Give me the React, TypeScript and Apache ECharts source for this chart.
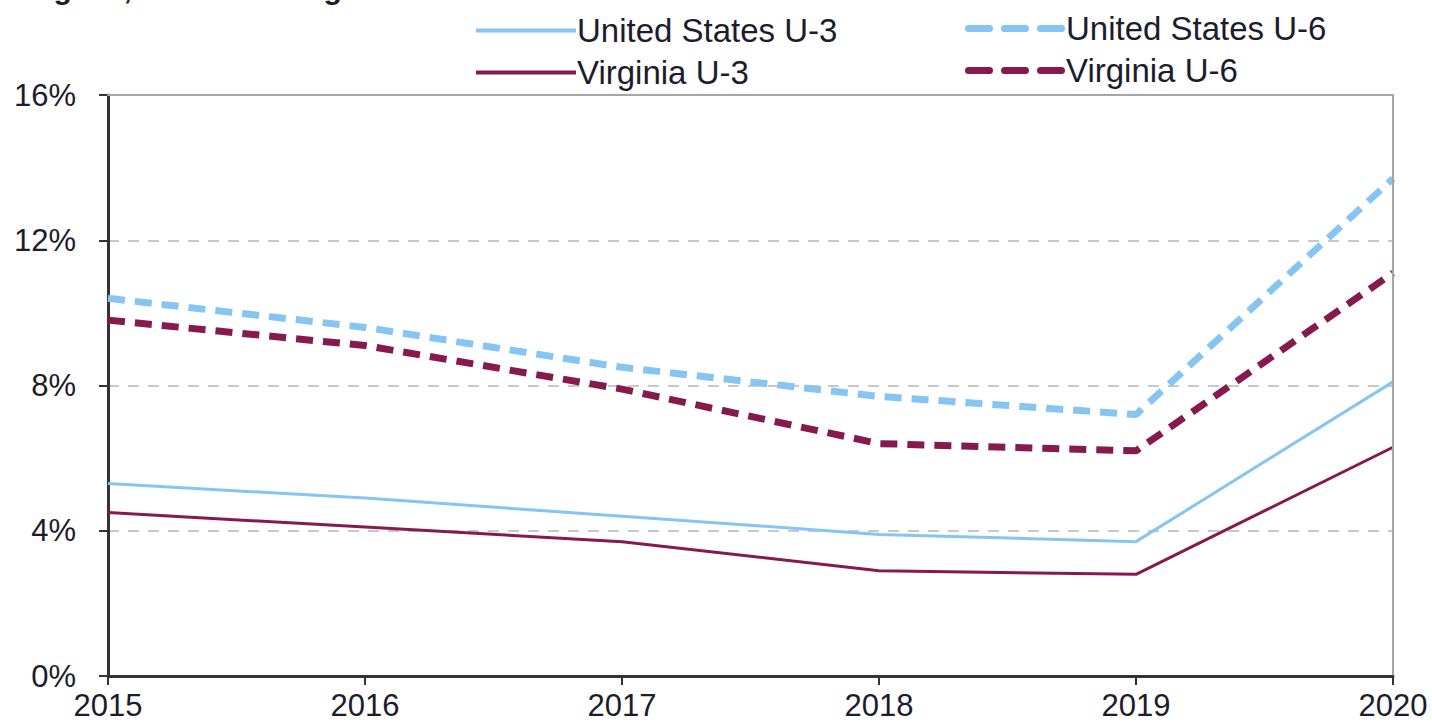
import React, { useEffect, useRef } from "react";
import * as echarts from "echarts";

const years = ["2015", "2016", "2017", "2018", "2019", "2020"];
const usU3 = [5.3, 4.9, 4.4, 3.9, 3.7, 8.1];
const usU6 = [10.4, 9.6, 8.5, 7.7, 7.2, 13.7];
const vaU3 = [4.5, 4.1, 3.7, 2.9, 2.8, 6.3];
const vaU6 = [9.8, 9.1, 7.9, 6.4, 6.2, 11.1];
const seriesNames = ["United States U-3", "United States U-6", "Virginia U-3", "Virginia U-6"];
const titleText = "Virginia, annual averages";

const BLUE = "#86c5f2";
const MAROON = "#861a4e";
const TEXT = "#1c1c2c";
const FONT = "'Liberation Sans', Arial, sans-serif";
const DASH = [17, 10];
const DASH_ICON = "path://M3.5,0h21a3.5,3.5,0,0,1,0,7h-21a3.5,3.5,0,0,1,0,-7z M39.5,0h21a3.5,3.5,0,0,1,0,7h-21a3.5,3.5,0,0,1,0,-7z M75.5,0h21a3.5,3.5,0,0,1,0,7h-21a3.5,3.5,0,0,1,0,-7z";

export default function App() {
  const ref = useRef<HTMLDivElement>(null);
  useEffect(() => {
    const chart = echarts.init(ref.current!, null, { renderer: "svg" });
    const legendBase = (name: string, left: number, top: number, color: string, dashed: boolean) => ({
      data: [name],
      icon: dashed ? DASH_ICON : "rect",
      left,
      top,
      itemWidth: 100,
      itemHeight: dashed ? 7 : 4,
      itemGap: 0,
      padding: 0,
      itemStyle: { color },
      textStyle: { fontFamily: FONT, fontSize: 33, color: TEXT, padding: [0, 0, 0, -4] },
      selectedMode: false,
    });
    chart.setOption({
      animation: false,
      backgroundColor: "#fff",
      graphic: [
        {
          type: "text",
          left: 14,
          top: -27,
          style: { text: titleText, fontFamily: FONT, fontWeight: "bold", fontSize: 30, fill: TEXT },
        },
      ],
      legend: [
        legendBase(seriesNames[0], 476, 14, BLUE, false),
        legendBase(seriesNames[1], 965, 12, BLUE, true),
        legendBase(seriesNames[2], 476, 56, MAROON, false),
        legendBase(seriesNames[3], 965, 54, MAROON, true),
      ],
      grid: {
        left: 108,
        right: 39,
        top: 95,
        bottom: 51,
        show: false,
      },
      xAxis: [
        {
          type: "category",
          data: years,
          boundaryGap: false,
          z: 4,
          axisLine: { lineStyle: { color: "#333", width: 3 } },
          axisTick: { show: true, length: 9, lineStyle: { color: "#333", width: 2 } },
          axisLabel: { fontFamily: FONT, fontSize: 31, color: TEXT, margin: 14, showMaxLabel: true, showMinLabel: true },
          splitLine: { show: false },
        },
        {
          type: "category",
          data: years,
          boundaryGap: false,
          position: "top",
          z: 4,
          axisLine: { show: true, onZero: false, lineStyle: { color: "#a6a6a6", width: 2 } },
          axisTick: { show: false },
          axisLabel: { show: false },
          splitLine: { show: false },
        },
      ],
      yAxis: [
        {
          type: "value",
          min: 0,
          max: 16,
          interval: 4,
          z: 1,
          axisLine: { show: true, lineStyle: { color: "#333", width: 3 } },
          axisTick: { show: true, length: 9, lineStyle: { color: "#333", width: 2 } },
          axisLabel: { formatter: "{value}%", fontFamily: FONT, fontSize: 31, color: TEXT, margin: 32 },
          splitLine: { show: true, lineStyle: { color: "#c8c8c8", width: 2, type: [11, 9] } },
        },
        {
          type: "value",
          min: 0,
          max: 16,
          interval: 4,
          position: "right",
          z: 4,
          axisLine: { show: true, onZero: false, lineStyle: { color: "#a6a6a6", width: 2 } },
          axisTick: { show: false },
          axisLabel: { show: false },
          splitLine: { show: false },
        },
      ],
      series: [
        {
          name: seriesNames[0],
          type: "line",
          data: usU3,
          symbol: "none",
          lineStyle: { color: BLUE, width: 3 },
          itemStyle: { color: BLUE },
          z: 3,
        },
        {
          name: seriesNames[1],
          type: "line",
          data: usU6,
          symbol: "none",
          lineStyle: { color: BLUE, width: 7, type: DASH },
          itemStyle: { color: BLUE },
          z: 3,
        },
        {
          name: seriesNames[2],
          type: "line",
          data: vaU3,
          symbol: "none",
          lineStyle: { color: MAROON, width: 3 },
          itemStyle: { color: MAROON },
          z: 3,
        },
        {
          name: seriesNames[3],
          type: "line",
          data: vaU6,
          symbol: "none",
          lineStyle: { color: MAROON, width: 7, type: DASH },
          itemStyle: { color: MAROON },
          z: 3,
        },
      ],
    });
    return () => chart.dispose();
  }, []);
  return (
    <div
      ref={ref}
      style={{ position: "fixed", left: 0, top: 0, width: 1432, height: 727, background: "#fff" }}
    />
  );
}
